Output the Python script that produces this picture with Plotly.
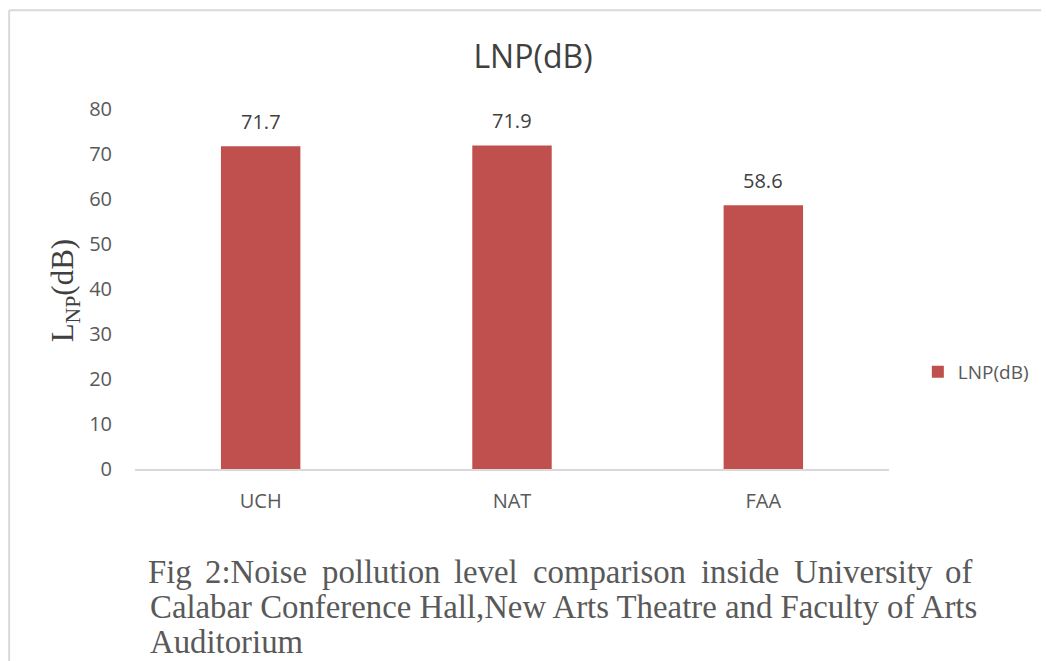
import plotly.graph_objects as go

categories = ["UCH", "NAT", "FAA"]
lnp_values = [71.7, 71.9, 58.6]
series_name = "LNP(dB)"
y_ticks = [0, 10, 20, 30, 40, 50, 60, 70, 80]
caption_line1 = ["Fig", "2:Noise", "pollution", "level", "comparison", "inside", "University", "of"]
caption_line2 = "Calabar Conference Hall,New Arts Theatre and Faculty of Arts"
caption_line3 = "Auditorium"

W, H = 1046, 661
# plot area in page pixels
L, R, T, B = 135, 893, 109, 469

def px(x):
    return (x - L) / (R - L)

def py(y):
    return (B - y) / (B - T)

fig = go.Figure()
fig.add_trace(go.Bar(
    x=categories, y=lnp_values, name=series_name,
    marker=dict(color="#c0504d", line=dict(width=0)),
    width=0.316, showlegend=True,
))

# data labels
for c, v in zip(categories, lnp_values):
    fig.add_annotation(x=c, y=v, text=f"{v}", showarrow=False, yshift=25,
                       font=dict(family="Open Sans", size=20, color="#404040"))

serif = "Liberation Serif"
cap_color = "#595959"
cap_size = 32.8
# caption line 1 (justified between 148 and 975)
line1_centers = [170, 257, 382, 488, 612, 743, 867, 963]
for w, cx in zip(caption_line1, line1_centers):
    fig.add_annotation(xref="paper", yref="paper", x=px(cx), y=py(572), text=w,
                       showarrow=False, xanchor="center", yanchor="middle",
                       font=dict(family=serif, size=cap_size, color=cap_color))
fig.add_annotation(xref="paper", yref="paper", x=px(148), y=py(607), text=caption_line2,
                   showarrow=False, xanchor="left", yanchor="middle",
                   font=dict(family=serif, size=cap_size, color=cap_color))
fig.add_annotation(xref="paper", yref="paper", x=px(148), y=py(642), text=caption_line3,
                   showarrow=False, xanchor="left", yanchor="middle",
                   font=dict(family=serif, size=cap_size, color=cap_color))

# y axis title
fig.add_annotation(xref="paper", yref="paper", x=px(65), y=py(290),
                   text="L<sub>NP</sub>(dB)", textangle=-90, showarrow=False,
                   xanchor="center", yanchor="middle",
                   font=dict(family=serif, size=31, color="#404040"))

# chart border (top and left)
fig.add_shape(type="line", xref="paper", yref="paper", x0=px(8.5), x1=px(1046),
              y0=py(10.3), y1=py(10.3), line=dict(color="#d9d9d9", width=2))
fig.add_shape(type="line", xref="paper", yref="paper", x0=px(8.5), x1=px(8.5),
              y0=py(10.3), y1=py(661), line=dict(color="#d9d9d9", width=2))

fig.update_layout(
    width=W, height=H,
    margin=dict(l=L, r=W - R, t=T, b=H - B, pad=0),
    paper_bgcolor="white", plot_bgcolor="white",
    title=dict(text="LNP(dB)", x=533 / W, xref="container", xanchor="center",
               y=1 - 57 / H, yref="container", yanchor="middle",
               font=dict(family="Open Sans", size=32, color="#404040")),
    font=dict(family="Open Sans", size=20, color="#595959"),
    legend=dict(x=px(922), y=py(372), xanchor="left", yanchor="middle",
                font=dict(family="Open Sans", size=19, color="#595959"),
                bgcolor="rgba(0,0,0,0)"),
    xaxis=dict(showgrid=False, showline=True, linecolor="#d9d9d9", linewidth=2,
               ticks="", ticklabelstandoff=13, tickfont=dict(size=20, color="#595959"),
               zeroline=False),
    yaxis=dict(range=[0, 80], tickvals=y_ticks, showgrid=False, showline=False,
               zeroline=False, ticks="", ticklabelstandoff=22,
               tickfont=dict(size=20, color="#595959")),
)

post = ("document.body.style.margin='0';document.body.style.overflow='hidden';"
        "Plotly.relayout('{plot_id}', {width: %d, height: %d});" % (W, H))
fig.write_html("out.html", post_script=post, config={"displayModeBar": False})
